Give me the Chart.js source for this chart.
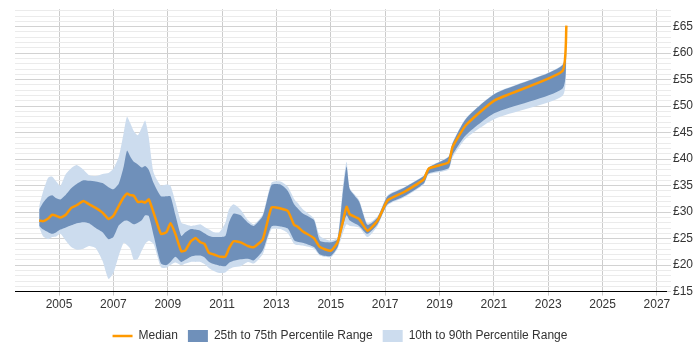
<!DOCTYPE html>
<html lang="en">
<head>
    <meta charset="UTF-8">
    <title>Hourly rate trend</title>
    <script src="https://cdn.jsdelivr.net/npm/chart.js"></script>
    <style>
        body {
            margin: 0;
            background: #fff;
        }

        #wrap {
            width: 700px;
            height: 350px;
        }
    </style>
</head>
<body>

    <div id="wrap"><canvas id="grafica" width="700" height="350"></canvas></div>

<script>
        // fechas en años decimales
        const years = [2004.27, 2004.42, 2004.6, 2004.75, 2004.9, 2005.05, 2005.25, 2005.45, 2005.65, 2005.9,
            2006.1, 2006.35, 2006.6, 2006.82, 2007.0, 2007.2, 2007.38, 2007.5, 2007.62, 2007.75,
            2007.9, 2008.05, 2008.17, 2008.3, 2008.48, 2008.75, 2008.95, 2009.1, 2009.28, 2009.5,
            2009.65, 2009.85, 2010.02, 2010.2, 2010.35, 2010.52, 2010.7, 2010.9, 2011.12, 2011.25,
            2011.42, 2011.68, 2011.95, 2012.17, 2012.5, 2012.82, 2013.15, 2013.42, 2013.65, 2013.77,
            2013.96, 2014.38, 2014.6, 2015.0, 2015.25, 2015.43, 2015.58, 2015.7, 2016.04, 2016.35,
            2016.72, 2017.09, 2017.7, 2018.42, 2018.6, 2019.33, 2019.48, 2019.97, 2021.03, 2023.52,
            2023.67];

        const median = [28.4, 28.3, 28.8, 29.5, 29.3, 29.0, 29.5, 30.8, 31.3, 32.1,
            31.5, 30.8, 29.9, 28.7, 29.3, 31.2, 32.8, 33.5, 33.2, 33.1,
            31.9, 32.0, 31.8, 32.4, 29.9, 25.9, 26.2, 27.9, 25.9, 22.6,
            22.8, 24.5, 25.1, 24.3, 24.0, 22.3, 22.0, 21.6, 21.6, 23.1,
            24.5, 24.3, 23.6, 23.4, 24.9, 30.9, 30.7, 30.2, 27.6, 27.3,
            26.4, 25.1, 23.4, 22.7, 24.3, 27.9, 31.0, 29.6, 28.7, 26.5,
            28.4, 32.2, 33.8, 36.2, 38.2, 39.4, 42.3, 46.4, 51.1, 56.6,
            65.2];

        const p75 = [30.5, 31.8, 32.9, 33.2, 32.6, 32.4, 33.3, 34.5, 35.3, 36.0,
            35.9, 35.8, 35.5, 34.7, 34.3, 35.4, 38.6, 41.6, 40.5, 39.5,
            39.0, 38.4, 38.7, 38.0, 35.5, 33.0, 33.0, 33.0, 29.5, 25.5,
            26.2, 26.8, 26.7, 26.5, 26.0, 25.5, 25.3, 25.3, 25.5, 28.0,
            29.7, 29.4, 28.0, 27.4, 29.3, 35.1, 35.2, 34.0, 31.5, 30.8,
            29.8, 28.5, 24.6, 24.3, 24.9, 33.0, 38.6, 34.3, 32.0, 27.6,
            29.0, 33.0, 34.6, 36.8, 38.4, 40.4, 43.0, 47.6, 52.3, 57.7,
            65.5];

        const p25 = [27.4, 26.7, 26.2, 25.9, 26.2, 26.7, 27.1, 27.5, 27.9, 28.1,
            27.9, 27.0, 26.2, 24.9, 25.3, 27.5, 28.3, 28.4, 28.1, 27.7,
            28.0, 28.5, 29.4, 29.3, 25.6, 20.3, 20.0, 20.6, 21.6, 20.6,
            21.0, 21.6, 21.8, 21.8, 21.5, 20.6, 20.2, 19.9, 19.8, 20.4,
            20.8, 21.1, 21.2, 20.9, 22.8, 27.3, 27.3, 26.9, 24.7, 24.4,
            24.2, 23.4, 22.0, 21.7, 23.4, 27.0, 29.4, 28.4, 27.4, 25.9,
            27.7, 31.5, 33.0, 35.4, 37.3, 38.3, 40.8, 44.5, 48.7, 53.3,
            59.5];

        const p90 = [31.2, 34.0, 36.5, 36.7, 35.8, 35.0, 37.2, 38.3, 38.9, 38.0,
            37.0, 36.8, 37.2, 37.4, 38.2, 40.5, 45.0, 48.0, 46.8, 45.3,
            44.5, 46.0, 47.3, 44.2, 37.5, 35.0, 35.2, 35.0, 32.0, 28.0,
            27.7, 27.4, 27.5, 27.7, 27.2, 26.7, 26.2, 26.2, 28.0, 30.5,
            31.5, 30.5, 28.5, 27.7, 29.6, 35.6, 35.8, 34.8, 32.5, 31.8,
            30.6, 28.8, 25.5, 24.6, 25.3, 34.0, 39.5, 34.5, 32.3, 27.9,
            29.2, 33.2, 34.7, 36.9, 38.5, 40.5, 43.1, 47.7, 52.4, 57.8,
            65.6];

        const p10 = [27.1, 25.4, 24.9, 25.3, 25.4, 25.9, 24.6, 23.4, 22.9, 23.1,
            23.6, 23.2, 20.8, 17.4, 18.5, 21.8, 24.2, 23.8, 23.1, 21.0,
            21.2, 22.8, 24.0, 24.6, 24.0, 19.6, 19.5, 20.0, 20.5, 20.0,
            20.3, 20.6, 20.6, 20.6, 20.2, 19.4, 18.9, 18.5, 18.6, 19.2,
            19.6, 19.8, 20.6, 20.3, 22.1, 26.8, 26.8, 26.0, 24.0, 23.8,
            23.7, 23.1, 21.8, 21.5, 23.1, 25.8, 27.7, 27.4, 27.1, 25.3,
            27.4, 31.3, 32.8, 35.2, 37.1, 38.0, 40.3, 43.9, 47.6, 51.9,
            57.8];

        const yearTicks = [2005, 2007, 2009, 2011, 2013, 2015, 2017, 2019, 2021, 2023, 2025, 2027];

        const pts = (vals) => vals.map((v, i) => ({ x: years[i], y: v }));

        // mover la leyenda para que quede centrada bajo el área del gráfico
        const moverLeyenda = {
            id: 'moverLeyenda',
            afterLayout(chart) {
                const lg = chart.legend;
                lg.top += 6;
                lg.bottom += 6;
                lg.left -= 15;
                lg.right -= 15;
            }
        };

        const ctx = document.getElementById('grafica').getContext('2d');
        const grafica = new Chart(ctx, {
            type: 'line',
            data: {
                datasets: [{
                    label: 'Median',
                    data: pts(median),
                    borderColor: '#ff9900',
                    backgroundColor: '#ff9900',
                    borderWidth: 2.5,
                    pointRadius: 0,
                    pointStyle: 'line',
                    tension: 0.15,
                    fill: false
                }, {
                    label: '25th to 75th Percentile Range',
                    data: pts(p75),
                    borderWidth: 0,
                    backgroundColor: '#6f90ba',
                    borderColor: '#6f90ba',
                    pointRadius: 0,
                    pointStyle: 'rect',
                    tension: 0.2,
                    fill: '+1'
                }, {
                    label: 'p25',
                    data: pts(p25),
                    borderWidth: 0,
                    pointRadius: 0,
                    tension: 0.2,
                    fill: false
                }, {
                    label: '10th to 90th Percentile Range',
                    data: pts(p90),
                    borderWidth: 0,
                    backgroundColor: '#ccdcee',
                    borderColor: '#ccdcee',
                    pointRadius: 0,
                    pointStyle: 'rect',
                    tension: 0.2,
                    fill: '+1'
                }, {
                    label: 'p10',
                    data: pts(p10),
                    borderWidth: 0,
                    pointRadius: 0,
                    tension: 0.2,
                    fill: false
                }]
            },
            options: {
                animation: false,
                responsive: false,
                layout: {
                    padding: { left: 15, top: -4, right: 5, bottom: 4 }
                },
                plugins: {
                    tooltip: { enabled: false },
                    legend: {
                        position: 'bottom',
                        labels: {
                            usePointStyle: true,
                            pointStyleWidth: 20,
                            boxHeight: 12,
                            padding: 10,
                            color: '#333',
                            font: { family: 'Liberation Sans, Arial, sans-serif', size: 12 },
                            filter: (item) => item.text !== 'p25' && item.text !== 'p10'
                        }
                    }
                },
                scales: {
                    x: {
                        type: 'linear',
                        min: 2003.38,
                        max: 2027.37,
                        afterBuildTicks: (axis) => {
                            axis.ticks = yearTicks.map(v => ({ value: v }));
                        },
                        ticks: {
                            color: '#333',
                            maxRotation: 0,
                            autoSkip: false,
                            padding: 2,
                            font: { family: 'Liberation Sans, Arial, sans-serif', size: 12 },
                            callback: (v) => String(v)
                        },
                        grid: {
                            color: '#cccccc',
                            tickLength: 4
                        },
                        border: { color: '#000', width: 1 }
                    },
                    y: {
                        position: 'right',
                        min: 15,
                        max: 68.3,
                        afterBuildTicks: (axis) => {
                            const t = [];
                            for (let v = 15; v <= 68; v++) t.push({ value: v });
                            axis.ticks = t;
                        },
                        ticks: {
                            color: '#333',
                            autoSkip: false,
                            padding: 2,
                            font: { family: 'Liberation Sans, Arial, sans-serif', size: 12 },
                            callback: (v) => (v % 5 === 0 ? '£' + v : '')
                        },
                        grid: {
                            color: (c) => (c.tick && c.tick.value % 5 === 0 ? '#d2d2d2' : '#ebebeb'),
                            tickLength: 4
                        },
                        border: { display: false }
                    }
                }
            },
            plugins: [moverLeyenda]
        });
    </script>

</body>
</html>
